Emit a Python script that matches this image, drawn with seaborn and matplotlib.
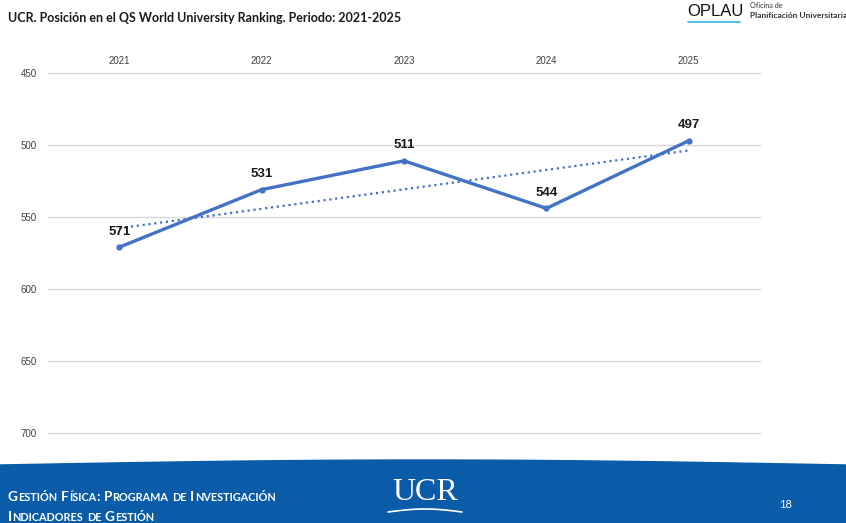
import numpy as np
import pandas as pd
import seaborn as sns
import matplotlib.pyplot as plt
from matplotlib.patches import Polygon
from itertools import groupby

# datos del gráfico
years = [2021, 2022, 2023, 2024, 2025]
positions = [571, 531, 511, 544, 497]
y_ticks = [450, 500, 550, 600, 650, 700]

sns.set_theme(style="white")
plt.rcParams['font.family'] = ['Lato', 'DejaVu Sans']

df = pd.DataFrame({'Año': years, 'Posición': positions})

fig = plt.figure(figsize=(8.46, 5.23), dpi=100)
ax = fig.add_axes([48 / 846, 1 - 433 / 523, (760 - 48) / 846, (433 - 73) / 523])

line_color = '#4472c4'
sns.lineplot(data=df, x='Año', y='Posición', ax=ax, color=line_color,
             linewidth=2.4, marker='o', markersize=4.5, markeredgewidth=0)

# línea de tendencia lineal
coef = np.polyfit(df['Año'], df['Posición'], 1)
trend = np.polyval(coef, df['Año'])
ax.plot(df['Año'], trend, color=line_color, linestyle=':', linewidth=1.6)

for x, y in zip(years, positions):
    ax.annotate(f'{y}', (x, y), xytext=(0, 7), textcoords='offset points',
                ha='center', va='bottom', fontsize=9.5, fontweight='bold',
                color='#1a1a1a', family=['Liberation Sans', 'DejaVu Sans'])

ax.set_xlim(2020.5, 2025.5)
ax.set_ylim(700, 450)
ax.set_yticks(y_ticks)
ax.set_xticks(years)
ax.xaxis.tick_top()
ax.tick_params(axis='x', length=0, labelsize=7, colors='#404040', pad=5)
ax.tick_params(axis='y', length=0, labelsize=7, colors='#404040', pad=8)
for lbl in ax.get_xticklabels() + ax.get_yticklabels():
    lbl.set_family(['Liberation Sans', 'DejaVu Sans'])
ax.yaxis.grid(True, color='#d9d9d9', linewidth=1)
for gl in ax.get_ygridlines():
    gl.set_clip_on(False)
ax.set_xlabel('')
ax.set_ylabel('')
for s in ax.spines.values():
    s.set_visible(False)

# título
fig.text(8 / 846, 1 - 18 / 523, 'UCR. Posición en el QS World University Ranking. Periodo: 2021-2025',
         fontsize=9, fontweight='bold', color='#1a1a1a', va='center', ha='left')

# logo OPLAU
fig.text(687 / 846, 1 - 11 / 523, 'OPLAU', fontsize=12, color='#111111', va='center', ha='left',
         family=['Liberation Sans', 'DejaVu Sans'])
fig.add_artist(plt.Line2D([688 / 846, 740 / 846], [1 - 21.5 / 523, 1 - 21.5 / 523],
                          color='#37b6d8', linewidth=1.2))
fig.text(750 / 846, 1 - 6 / 523, 'Oficina de', fontsize=5.2, color='#333333', va='center', ha='left')
fig.text(750 / 846, 1 - 15 / 523, 'Planificación Universitaria', fontsize=6, fontweight='bold',
         color='#333333', va='center', ha='left')

# franja inferior
xs = np.linspace(0, 1, 60)
top = 1 - (465 - 5 * np.sin(np.pi * xs)) / 523
band = Polygon(np.column_stack([np.r_[xs, [1, 0]], np.r_[top, [0, 0]]]),
               closed=True, transform=fig.transFigure, color='#0b5ca8', zorder=0)
fig.add_artist(band)


def small_caps(x, y, text, big=9.8, small=7.8):
    # simula versalitas: mayúsculas grandes, minúsculas en mayúscula pequeña
    renderer = fig.canvas.get_renderer()
    cur = x
    for word in text.split(' '):
        for is_low, chunk in groupby(word, key=str.islower):
            chunk = ''.join(chunk)
            t = fig.text(cur, y, chunk.upper(), fontsize=small if is_low else big,
                         fontweight='bold', color='white', va='baseline', ha='left')
            cur += t.get_window_extent(renderer).width / fig.bbox.width + 0.4 / 846
        cur += 3.2 / 846


small_caps(8 / 846, 1 - 501 / 523, 'Gestión Física: Programa de Investigación')
small_caps(8 / 846, 1 - 521 / 523, 'Indicadores de Gestión')

fig.text(425 / 846, 1 - 492 / 523, 'UCR', fontsize=23, color='white', ha='center', va='center',
         family=['Liberation Serif', 'DejaVu Serif'])
sx = np.linspace(388, 462, 40)
sy = 512 - 3 * np.sin(np.pi * (sx - 388) / 74)
fig.add_artist(plt.Line2D(sx / 846, 1 - sy / 523, color='white', linewidth=1.2))

fig.text(785 / 846, 1 - 504 / 523, '18', fontsize=8, color='white', ha='center', va='center')

fig.savefig('out.png', dpi=100)
